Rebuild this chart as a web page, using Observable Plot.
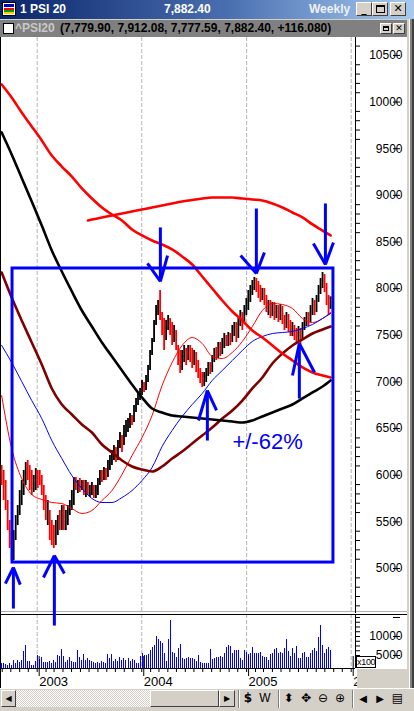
<!DOCTYPE html>
<html><head><meta charset="utf-8">
<script src="https://cdn.jsdelivr.net/npm/d3@7"></script>
<script src="https://cdn.jsdelivr.net/npm/@observablehq/plot@0.6"></script>
<style>
html,body{margin:0;padding:0}
body{width:414px;height:711px;overflow:hidden;background:#d4d0c8;position:relative;font-family:"Liberation Sans",Arial,sans-serif}
.a{position:absolute;box-sizing:border-box}
.btn{background:#d4d0c8;border-top:1px solid #fff;border-left:1px solid #fff;border-right:1px solid #404040;border-bottom:1px solid #404040;color:#000;text-align:center;font-family:"DejaVu Sans",sans-serif}
.ic{position:absolute;top:690px;height:17px;line-height:17px;font-family:"DejaVu Sans",sans-serif;font-size:12px;color:#000;text-align:center}
.sep{position:absolute;top:690px;width:2px;height:18px;border-left:1px solid #808080;border-right:1px solid #fff;box-sizing:border-box}
</style></head><body>
<!-- title bar -->
<div class="a" style="left:0;top:0;width:414px;height:19px;background:linear-gradient(90deg,#0a246a 0%,#4a6fb0 55%,#a6caf0 100%)"></div>
<div class="a" style="left:2px;top:2px;width:14px;height:14px;background:#fff;border:1px solid #000">
  <div class="a" style="left:1px;top:1px;width:10px;height:3px;background:#0000c0"></div>
  <div class="a" style="left:1px;top:5px;width:10px;height:2px;background:#ff0000"></div>
  <div class="a" style="left:1px;top:7px;width:10px;height:2px;background:#00a000"></div>
  <div class="a" style="left:1px;top:9px;width:10px;height:2px;background:#ffd000"></div>
</div>
<div class="a" style="left:20px;top:0;height:19px;line-height:19px;color:#fff;font-weight:bold;font-size:12px">1 PSI 20</div>
<div class="a" style="left:164px;top:0;height:19px;line-height:19px;color:#fff;font-weight:bold;font-size:12px">7,882.40</div>
<div class="a" style="left:309px;top:0;height:19px;line-height:19px;color:#f0f0f0;font-weight:bold;font-size:12px">Weekly</div>
<div class="a btn" style="left:356px;top:2px;width:16px;height:14px;font-size:10px;line-height:12px;font-weight:bold">_</div>
<div class="a btn" style="left:372px;top:2px;width:16px;height:14px"><div class="a" style="left:3px;top:2px;width:9px;height:8px;border:1px solid #000;border-top-width:2px"></div></div>
<div class="a btn" style="left:390px;top:2px;width:16px;height:14px;font-size:11px;line-height:12px;font-weight:bold">✕</div>
<!-- sub caption -->
<div class="a" style="left:0;top:19px;width:407px;height:18px;background:#808080;border-top:1px solid #d4d0c8"></div>
<div class="a" style="left:3px;top:23px;width:11px;height:11px;background:#fff;border:1px solid #000"></div>
<div class="a" style="left:15px;top:19px;height:18px;line-height:18px;color:#c8c8c8;font-weight:bold;font-size:12px">^PSI20</div>
<div class="a" style="left:60px;top:19px;height:18px;line-height:18px;color:#000;font-weight:bold;font-size:12px">(7,779.90, 7,912.08, 7,777.59, 7,882.40, +116.080)</div>
<div class="a btn" style="left:380px;top:23px;width:12px;height:11px"><div class="a" style="left:2px;top:2px;width:6px;height:5px;border:1px solid #000;border-top-width:2px"></div></div>
<div class="a btn" style="left:393px;top:23px;width:12px;height:11px;font-size:9px;line-height:9px">✕</div>
<!-- white panels -->
<div class="a" style="left:0;top:37px;width:407px;height:576px;background:#fff"></div>
<div class="a" style="left:0;top:611px;width:407px;height:1px;background:#b0b0b0"></div>
<div class="a" style="left:0;top:613px;width:407px;height:56px;background:#fff"></div>
<div class="a" style="left:0;top:668px;width:357px;height:20px;background:#fff"></div>
<!-- right frame -->
<div class="a" style="left:407px;top:19px;width:7px;height:669px;background:linear-gradient(90deg,#d4d0c8 0 2px,#ffffff 2px 3px,#808080 3px 5px,#404040 5px 7px)"></div>
<div id="vol" class="a" style="left:0;top:613px;width:407px;height:75px"></div>
<div id="price" class="a" style="left:0;top:37px;width:407px;height:576px;z-index:2"></div>
<div class="a" style="left:0;top:614px;width:407px;height:1px;background:#000;z-index:1"></div>
<div class="a" style="left:0;top:37px;width:1px;height:651px;background:#000;z-index:3"></div>
<div class="a" style="left:357px;top:669px;width:50px;height:19px;background:#d4d0c8;z-index:3"></div>
<div class="a" style="left:356px;top:656px;width:20px;height:12px;background:#fff;border:1px solid #000;font-size:9px;line-height:10px;text-align:center;letter-spacing:-0.3px;z-index:4">x100</div>
<!-- bottom toolbar -->
<div class="a" style="left:0;top:688px;width:414px;height:23px;background:#d4d0c8;border-top:1px solid #fff;z-index:3"></div>
<div class="a btn" style="left:1px;top:690px;width:15px;height:17px;font-size:8px;line-height:15px;z-index:4">◀</div>
<div class="a" style="left:16px;top:690px;width:134px;height:17px;background:repeating-conic-gradient(#ffffff 0 25%,#d4d0c8 0 50%) 0 0/2px 2px;z-index:4"></div>
<div class="a btn" style="left:150px;top:690px;width:69px;height:17px;z-index:4"></div>
<div class="a btn" style="left:219px;top:690px;width:16px;height:17px;font-size:8px;line-height:15px;z-index:4">▶</div>
<div class="sep" style="left:238px;z-index:4"></div>
<div class="ic" style="left:242px;width:12px;z-index:4;font-weight:bold">$</div>
<div class="ic" style="left:258px;width:14px;z-index:4;font-family:'Liberation Sans';font-size:12px">W</div>
<div class="sep" style="left:278px;z-index:4"></div>
<div class="ic" style="left:282px;width:13px;z-index:4">⬍</div>
<div class="ic" style="left:299px;width:14px;z-index:4">✥</div>
<div class="ic" style="left:316px;width:14px;z-index:4">⊖</div>
<div class="ic" style="left:333px;width:14px;z-index:4">⊕</div>
<div class="sep" style="left:352px;z-index:4"></div>
<div class="ic" style="left:357px;width:12px;z-index:4;font-size:10px">◀</div>
<div class="ic" style="left:374px;width:12px;z-index:4;font-size:10px">▶</div>
<div class="ic" style="left:391px;width:13px;z-index:4">▤</div>
<script>
// ---------- data ----------
const firstWeek = "2002-08-30";           // first weekly bar (Friday)
const high = [6104,6051,5944,5729,5515,5407,5407,5568,5675,5836,
5944,6051,6136,6158,6104,6051,5997,6072,6051,6051,
5997,5890,5783,5729,5622,5515,5461,5515,5568,5622,
5675,5675,5622,5675,5729,5836,5976,5976,5944,5965,
5944,5944,5944,5922,5890,5922,5890,5890,5965,6051,
6051,6083,6072,6158,6211,6265,6319,6297,6372,6458,
6426,6533,6587,6608,6662,6640,6747,6823,6887,6930,
7016,6994,7069,7176,7337,7466,7659,7819,7873,7980,
7744,7680,7659,7712,7680,7637,7605,7551,7391,7337,
7337,7391,7359,7391,7391,7359,7337,7316,7230,7144,
7101,7101,7144,7208,7208,7283,7359,7369,7423,7423,
7466,7519,7498,7530,7519,7605,7637,7637,7680,7766,
7744,7819,7895,7980,8034,8087,8120,8109,8077,8034,
8002,8002,7927,7873,7873,7852,7852,7819,7819,7830,
7809,7712,7744,7723,7659,7637,7605,7573,7594,7573,
7637,7691,7744,7744,7819,7895,7873,7927,8034,8109,
8173,8152,8055,7927,7912];
const low = [5890,5729,5622,5407,5215,5086,5086,5300,5461,5568,
5675,5783,5890,5944,5836,5783,5815,5836,5858,5890,
5783,5622,5515,5461,5300,5247,5215,5247,5354,5407,
5407,5407,5407,5461,5568,5622,5675,5836,5804,5815,
5836,5783,5761,5783,5761,5783,5751,5751,5783,5890,
5922,5944,5944,5976,6051,6104,6158,6136,6158,6286,
6244,6319,6404,6458,6501,6533,6565,6672,6747,6801,
6855,6887,6908,6994,7123,7283,7423,7605,7712,7659,
7498,7337,7444,7551,7498,7391,7423,7337,7176,7091,
7123,7208,7176,7230,7208,7144,7176,7101,7037,6983,
6940,6951,6994,7059,7080,7101,7208,7230,7251,7273,
7294,7359,7380,7380,7391,7423,7487,7423,7466,7594,
7551,7637,7712,7766,7852,7927,7980,7959,7895,7852,
7873,7819,7744,7712,7680,7701,7659,7680,7637,7659,
7616,7551,7573,7530,7487,7487,7444,7412,7423,7402,
7444,7551,7594,7594,7637,7712,7712,7744,7852,7937,
8002,7959,7819,7712,7778];
const close = [5944,5783,5675,5461,5300,5139,5354,5515,5622,5783,
5890,5997,6104,6051,5890,5836,5944,6029,5997,5965,
5836,5675,5568,5675,5354,5300,5247,5461,5515,5461,
5622,5461,5515,5654,5675,5783,5944,5890,5922,5858,
5911,5815,5890,5836,5858,5879,5772,5836,5933,6008,
5965,6051,5987,6126,6179,6211,6286,6179,6340,6426,
6297,6501,6554,6587,6640,6565,6715,6801,6855,6908,
6983,6930,7037,7144,7305,7444,7626,7787,7841,7712,
7551,7391,7605,7680,7551,7444,7551,7391,7230,7144,
7283,7337,7230,7359,7283,7208,7305,7155,7080,7037,
6983,7069,7123,7176,7123,7251,7337,7273,7391,7316,
7444,7487,7412,7498,7434,7573,7605,7466,7648,7734,
7605,7787,7873,7948,8002,8055,8098,8002,7937,7895,
7980,7873,7787,7841,7744,7819,7712,7798,7680,7798,
7659,7594,7701,7573,7519,7605,7487,7466,7551,7466,
7605,7659,7712,7659,7787,7873,7766,7895,8002,8087,
8141,7980,7873,7766,7882.40];
const volume = [2810,2990,2550,2380,2810,2380,3690,2810,3690,3250,
3690,6150,7640,3520,3520,2380,2380,3520,5010,3870,
4390,3080,3250,3160,3520,2990,3690,3160,5010,4830,
6580,4830,3250,3690,4570,3520,3080,3250,6320,4570,
3690,5270,3690,4220,3690,3520,3250,2810,3080,2810,
3520,3250,2810,5180,4130,5180,3520,4040,3520,4570,
3690,4130,3690,4130,3520,3950,3690,2810,2810,4740,
5620,5010,5010,5270,6320,7200,7550,10000,9130,8780,
8080,5620,3520,9130,14210,5880,5620,4570,6940,7810,
4130,3870,4300,4570,4130,4130,3870,3520,5010,3250,
2990,2990,2990,2990,6500,3870,4130,4570,4570,4740,
4570,5620,7020,7640,7370,5620,6320,6320,6320,4130,
3690,6320,5880,5270,5440,7020,5440,5440,5620,5880,
4830,4570,4570,3690,5270,5620,6500,6760,5440,5880,
5620,6760,9220,6060,4740,6760,5620,7370,4130,4130,
5620,5710,4570,4390,5620,6320,6760,6150,9650,12900,
7640,5440,6580,7180,6320];
// moving averages, sampled every 5 weeks (week index 0,5,...,160,164)
const maThinRed = [6854,6286,5965,5793,5740,5708,5697,5643,5590,5622,5729,5836,6008,6211,6404,6640,6962,7208,7391,7476,7412,7273,7251,7316,7434,7594,7766,7841,7830,7787,7680,7637,7680,7744];
const maBlue = [7391,7208,7005,6801,6608,6372,6179,5997,5858,5751,5708,5708,5761,5836,5944,6083,6308,6480,6630,6758,6876,7016,7123,7230,7337,7434,7487,7519,7530,7541,7573,7616,7680,7734];
const maMaroon = [8173,7905,7659,7423,7187,6930,6758,6651,6544,6458,6329,6244,6158,6094,6061,6040,6094,6179,6254,6340,6426,6511,6608,6694,6801,6930,7048,7198,7305,7391,7455,7519,7562,7594];
const maBlack = [9674,9438,9186,8934,8677,8409,8184,7970,7766,7594,7423,7273,7123,6973,6833,6715,6672,6640,6630,6619,6608,6597,6587,6576,6565,6587,6630,6672,6715,6758,6823,6887,6951,7016];
const maRedThick = [10189,10049,9888,9739,9588,9427,9309,9202,9074,8966,8870,8795,8731,8634,8570,8516,8473,8420,8345,8259,8130,8002,7873,7755,7659,7551,7476,7391,7305,7230,7155,7101,7069,7048];
// long average (starts at week index 43)
const maRedLong = [8731,8741,8763,8784,8806,8827,8848,8870,8891,8913,8934,8950,8966,8977,8977,8977,8966,8956,8945,8913,8870,8816,8763,8688,8623,8570];
// annotations
const boxDates = ["2002-10-07","2005-10-31"];
const boxPrices = [5064, 8216];
const arrowDates = ["2002-10-10","2003-03-02","2004-03-06","2004-08-17","2005-02-04","2005-07-04","2005-10-03"];
const arrowTip = [5011,5139,8077,6908,8162,7412,8259];
const arrowTail = [4571,4389,8656,6372,8859,6822,8913];
const wingLDates = ["2002-09-12","2003-01-23","2004-01-21","2004-07-17","2004-12-11","2005-06-10","2005-08-22"];
const wingLPrice = [4839,4904,8270,6587,8355,7069,8484];
const wingRDates = ["2002-11-03","2003-04-06","2004-03-31","2004-09-18","2005-03-04","2005-08-26","2005-10-31"];
const wingRPrice = [4828,4946,8355,6694,8387,7101,8495];
const noteText = "+/-62%", noteDate = "2005-03-15", notePrice = 6361;
const yearLabels = [2003, 2004, 2005, 2006];
const priceTicks = [5000,5500,6000,6500,7000,7500,8000,8500,9000,9500,10000,10500];
const volTicks = [5000, 10000, 15000];

// ---------- build ----------
const FONT = '"Liberation Sans", Arial, sans-serif';
const DAY = 864e5;
const t0 = new Date(firstWeek).getTime();
const wk = i => new Date(t0 + i * 7 * DAY);
const xDomain = [new Date("2002-08-26"), new Date("2006-01-16")];
const years = yearLabels.map(y => new Date(Date.UTC(y, 0, 1)));
const months = d3.utcMonth.range(new Date("2002-09-01"), xDomain[1]);
const priceMinor = d3.range(4600, 10700, 100).filter(v => v % 500 !== 0);
const volMinor = d3.range(5000, 15001, 1250);
const bars = high.map((h, i) => ({date: wk(i), high: h, low: low[i], close: close[i],
  down: i === 0 ? true : close[i] < close[i - 1]}));
const maIdx = d3.range(0, 161, 5).concat([164]);
const longIdx = [43].concat(d3.range(45, 161, 5), [164]);
const ser = (idx, vals) => idx.map((i, k) => ({date: wk(i), value: vals[k]}));
const vols = volume.map((v, i) => ({date: wk(i), vol: v}));
const box = [{x1: new Date(boxDates[0]), x2: new Date(boxDates[1]), y1: boxPrices[0], y2: boxPrices[1]}];
const segs = [];
arrowDates.forEach((d, k) => {
  const tx = new Date(d);
  segs.push({x1: tx, y1: arrowTail[k], x2: tx, y2: arrowTip[k]});
  segs.push({x1: new Date(wingLDates[k]), y1: wingLPrice[k], x2: tx, y2: arrowTip[k]});
  segs.push({x1: new Date(wingRDates[k]), y1: wingRPrice[k], x2: tx, y2: arrowTip[k]});
});
const maLine = (data, stroke, w) => Plot.line(data, {x: "date", y: "value", stroke, strokeWidth: w, curve: "monotone-x"});

const price = Plot.plot({
  width: 407, height: 576, marginLeft: 0, marginRight: 52, marginTop: 0, marginBottom: 0,
  style: {background: "transparent", overflow: "visible", fontFamily: FONT, fontSize: "12px", color: "#000"},
  x: {type: "utc", domain: xDomain, axis: null, label: null},
  y: {type: "linear", domain: [4518, 10692], axis: null, label: null},
  marks: [
    Plot.ruleX(years, {stroke: "#b4b4b4", strokeDasharray: "4,2"}),
    Plot.ruleX(bars, {x: "date", y1: "low", y2: "high", stroke: d => d.down ? "#ff0000" : "#000000", strokeWidth: 1.8}),
    maLine(ser(maIdx, maThinRed), "#ff0000", 1),
    maLine(ser(maIdx, maBlue), "#0000ff", 1),
    maLine(ser(maIdx, maMaroon), "#800000", 2.6),
    maLine(ser(maIdx, maBlack), "#000000", 2.6),
    maLine(ser(maIdx, maRedThick), "#ff0000", 2.6),
    maLine(ser(longIdx, maRedLong), "#ff0000", 2.6),
    Plot.rect(box, {x1: "x1", x2: "x2", y1: "y1", y2: "y2", fill: "none", stroke: "#0000ff", strokeWidth: 3}),
    Plot.link(segs, {x1: "x1", y1: "y1", x2: "x2", y2: "y2", stroke: "#0000ff", strokeWidth: 3}),
    Plot.text([noteText], {x: () => new Date(noteDate), y: () => notePrice, text: d => d, fill: "#0000ff", fontSize: 22, fontFamily: FONT, textAnchor: "middle", lineAnchor: "middle"}),
    Plot.ruleX([xDomain[1]], {stroke: "#000"}),
    Plot.axisY({ticks: priceMinor, anchor: "right", tickSize: 4, tickFormat: () => ""}),
    Plot.axisY({ticks: priceTicks, anchor: "right", tickSize: 7, tickPadding: 3, textAnchor: "end", dx: 37, tickFormat: d => String(d), fontSize: 12})
  ]
});
document.getElementById("price").appendChild(price);

const volMin = 1579, volMax = 15789;
const vol = Plot.plot({
  width: 407, height: 75, marginLeft: 0, marginRight: 52, marginTop: 1, marginBottom: 20,
  style: {background: "transparent", overflow: "visible", fontFamily: FONT, fontSize: "12px", color: "#000"},
  x: {type: "utc", domain: xDomain, axis: null, label: null},
  y: {type: "linear", domain: [volMin, volMax], axis: null, label: null},
  marks: [
    Plot.ruleX(years, {stroke: "#b4b4b4", strokeDasharray: "4,2"}),
    Plot.ruleX(vols, {x: "date", y1: volMin, y2: "vol", stroke: "#0000ff", strokeWidth: 1, shapeRendering: "crispEdges"}),
    Plot.ruleY([volMin], {stroke: "#000"}),
    Plot.ruleX([xDomain[1]], {stroke: "#000"}),
    Plot.axisY({ticks: volMinor, anchor: "right", tickSize: 4, tickFormat: () => ""}),
    Plot.axisY({ticks: volTicks, anchor: "right", tickSize: 7, tickPadding: 3, textAnchor: "end", dx: 37, tickFormat: d => d === 15000 ? "" : String(d), fontSize: 12}),
    Plot.axisX({ticks: months, anchor: "bottom", tickSize: 4, tickFormat: () => ""}),
    Plot.axisX({ticks: years, anchor: "bottom", tickSize: 20, tickPadding: 0, textAnchor: "start", dx: 2, dy: -12, fontSize: 13, tickFormat: d3.utcFormat("%Y")})
  ]
});
document.getElementById("vol").appendChild(vol);
</script>
</body></html>
